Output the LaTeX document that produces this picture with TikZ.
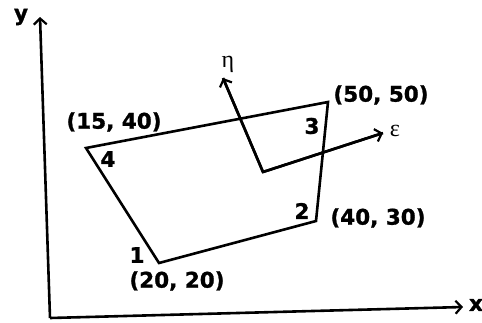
\documentclass[tikz,border=0pt]{standalone}
\usepackage{fontspec}
\setmainfont{DejaVu Sans}[BoldFeatures={FakeBold=1.2}]
\newfontfamily\grkfont{Liberation Serif}
\usetikzlibrary{arrows.meta}
\begin{document}
\begin{tikzpicture}[x=1pt,y=-1pt,
  edge/.style={line width=2.6pt, line join=miter},
  axis/.style={line width=2.6pt, -{Straight Barb[length=6pt,width=13pt,line width=2.2pt]}},
  lbl/.style={font=\fontsize{21.5}{24}\bfseries\selectfont, inner sep=0pt},
  grk/.style={font=\fontsize{24}{26}\grkfont\selectfont, inner sep=0pt}]
\useasboundingbox[fill=white] (0,0) rectangle (482,322);
% axes
\coordinate (O) at (50,318);
\coordinate (Y) at (40,17);
\coordinate (X) at (463,307);
\draw[axis] (O) -- (Y);
\draw[axis] (O) -- (X);
\node[lbl] (ylab) at (21,17) {y};
\node[lbl] (xlab) at (476,305) {x};
% element
\coordinate (v1) at (159,263);
\coordinate (v2) at (316,221);
\coordinate (v3) at (328,102);
\coordinate (v4) at (86,148);
\draw[edge] (v1) -- (v2) -- (v3) -- (v4) -- cycle;
% local axes
\coordinate (c) at (263,172);
\coordinate (etaTip) at (223,78);
\coordinate (epsTip) at (383,133);
\draw[axis] (c) -- (etaTip);
\draw[axis] (c) -- (epsTip);
\draw[edge] (etaTip) -- (c) -- (epsTip);
\node[grk] (eta) at (228,64) {η};
\node[grk] (eps) at (395,131) {ε};
% labels
\node[lbl] (n1) at (137,255) {1};
\node[lbl] (n2) at (302,211) {2};
\node[lbl] (n3) at (312,126) {3};
\node[lbl] (n4) at (108,159) {4};
\node[lbl] (c1) at (177,281) {(20, 20)};
\node[lbl] (c2) at (378,218) {(40, 30)};
\node[lbl] (c3) at (381,95) {(50, 50)};
\node[lbl] (c4) at (114,122) {(15, 40)};
\end{tikzpicture}
\end{document}
